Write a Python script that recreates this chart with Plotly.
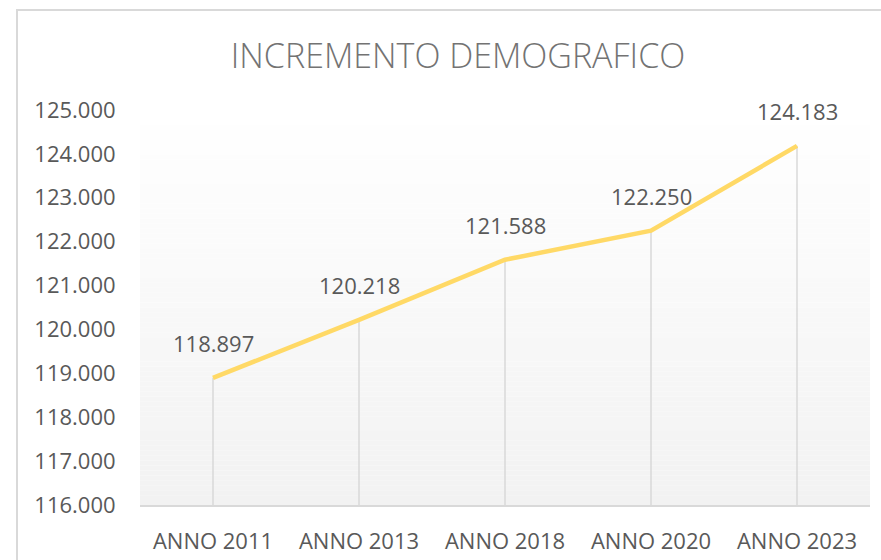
import plotly.graph_objects as go

categories = ["ANNO 2011", "ANNO 2013", "ANNO 2018", "ANNO 2020", "ANNO 2023"]
population = [118897, 120218, 121588, 122250, 124183]
y_min, y_max, y_step = 116000, 125000, 1000

def fmt(v):
    return f"{v:,}".replace(",", ".")

W, H = 881, 560
PW, PH = 730, 395
ML, MT = 140, 110
MR, MB = W - ML - PW, H - MT - PH

FONT = "Open Sans"
GRAY = "#595959"

fig = go.Figure()

# drop lines from each point down to the axis
fig.add_trace(go.Scatter(
    x=categories, y=population, mode="markers",
    marker=dict(size=1, opacity=0),
    error_y=dict(type="data", symmetric=False,
                 array=[0] * len(population),
                 arrayminus=[v - y_min for v in population],
                 width=0, thickness=1.5, color="#D9D9D9"),
    hoverinfo="skip", showlegend=False,
))

fig.add_trace(go.Scatter(
    x=categories, y=population, mode="lines",
    line=dict(color="#FFD966", width=4.5),
    showlegend=False,
))

annotations = [
    dict(x=c, y=v, xref="x", yref="y", text=fmt(v), showarrow=False,
         yanchor="bottom", xanchor="center", yshift=18,
         font=dict(family=FONT, size=22, color=GRAY))
    for c, v in zip(categories, population)
]

# background gradient (white -> light gray) in the plot area
shapes = []
N = 80
for i in range(N):
    t = (i + 0.5) / N  # 0 at bottom, 1 at top
    c = round(242 + (255 - 242) * t)
    shapes.append(dict(type="rect", xref="paper", yref="paper",
                       x0=0, x1=1, y0=i / N, y1=(i + 1) / N,
                       fillcolor=f"rgb({c},{c},{c})", line=dict(width=0),
                       layer="below"))

# chart frame border (partially off-canvas)
shapes.append(dict(type="rect", xref="paper", yref="paper",
                   x0=(17 - ML) / PW, x1=1.2,
                   y0=-0.4, y1=(H - MB - 10) / PH,
                   line=dict(color="#D9D9D9", width=2),
                   fillcolor="rgba(0,0,0,0)", layer="below"))

fig.update_layout(
    width=W, height=H,
    margin=dict(l=ML, r=MR, t=MT, b=MB, autoexpand=False),
    paper_bgcolor="white", plot_bgcolor="rgba(0,0,0,0)",
    separators=",.",
    title=dict(text="INCREMENTO DEMOGRAFICO", x=458 / W, xref="container",
               xanchor="center", y=1 - 56 / H, yanchor="middle",
               font=dict(family=FONT, size=34, color="#737373", weight=300)),
    xaxis=dict(type="category", showgrid=False, zeroline=False,
               automargin=False,
               showline=True, linecolor="#D9D9D9", linewidth=1.5,
               ticks="outside", ticklen=16, tickcolor="rgba(0,0,0,0)",
               tickfont=dict(family=FONT, size=22, color=GRAY),
               range=[-0.5, len(categories) - 0.5]),
    yaxis=dict(range=[y_min, y_max], dtick=y_step, tick0=y_min,
               automargin=False,
               tickformat=",d", showgrid=False, zeroline=False,
               showline=False, ticks="outside", ticklen=19,
               tickcolor="rgba(0,0,0,0)",
               tickfont=dict(family=FONT, size=22, color=GRAY)),
    annotations=annotations,
    shapes=shapes,
    showlegend=False,
)

fig.write_html(
    "out.html",
    config={"displayModeBar": False},
    post_script="document.body.style.margin='0';document.body.style.overflow='hidden';",
)
